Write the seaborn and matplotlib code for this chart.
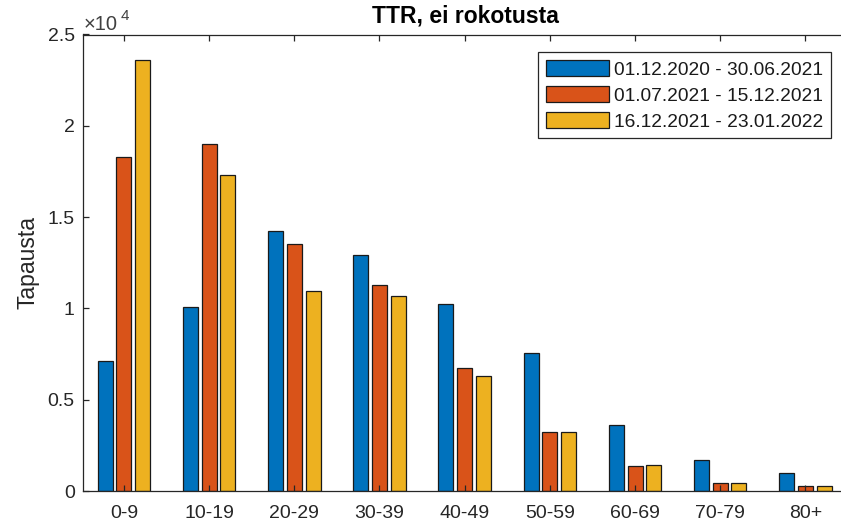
import matplotlib
matplotlib.use("Agg")
import matplotlib.pyplot as plt
import matplotlib.patches as mpatches
import seaborn as sns
import pandas as pd

categories = ["0-9", "10-19", "20-29", "30-39", "40-49", "50-59", "60-69", "70-79", "80+"]
periods = ["01.12.2020 - 30.06.2021", "01.07.2021 - 15.12.2021", "16.12.2021 - 23.01.2022"]
period1 = [7100, 10100, 14250, 12900, 10250, 7550, 3620, 1700, 990]
period2 = [18300, 19000, 13500, 11300, 6750, 3250, 1350, 440, 270]
period3 = [23600, 17300, 10950, 10700, 6300, 3250, 1420, 440, 270]
colors = ["#0072BD", "#D95319", "#EDB120"]
ytick_vals = [0, 5000, 10000, 15000, 20000, 25000]
ytick_labels = ["0", "0.5", "1", "1.5", "2", "2.5"]

sns.set_style("white")
plt.rcParams["font.family"] = ["Liberation Sans", "DejaVu Sans"]

rows = []
for series, vals in zip(periods, [period1, period2, period3]):
    for c, v in zip(categories, vals):
        rows.append({"Ikä": c, "Jakso": series, "Tapausta": v})
df = pd.DataFrame(rows)

fig = plt.figure(figsize=(8.41, 5.26), dpi=100)
ax = fig.add_axes([83 / 841, 1 - 491 / 526, 765 / 841, (491 - 34.5) / 526])

axis_col = "#262626"
sns.barplot(data=df, x="Ikä", y="Tapausta", hue="Jakso", order=categories,
            hue_order=periods, palette=colors, width=0.66, gap=0.2,
            edgecolor="#1a1a1a", linewidth=0.9, saturation=1, ax=ax,
            legend=False)

ax.set_xlim(-0.48, 8.5)
ax.set_ylim(0, 25000)
ax.set_yticks(ytick_vals)
ax.set_yticklabels(ytick_labels)
ax.set_xlabel("")
ax.set_ylabel("Tapausta", fontsize=16.5, color=axis_col, labelpad=6)
ax.set_title("TTR, ei rokotusta", fontsize=16.5, fontweight="bold", color="black", pad=9)

for s in ax.spines.values():
    s.set_color(axis_col)
    s.set_linewidth(0.9)
ax.set_axisbelow(False)
ax.tick_params(axis="both", which="both", direction="in", length=4.5, width=0.9,
               color=axis_col, labelcolor=axis_col, labelsize=14,
               top=True, right=True, bottom=True, left=True)
ax.tick_params(axis="x", pad=10)
ax.tick_params(axis="y", pad=6)

# exponent label (x10^4)
fig.text(84 / 841, 1 - 30 / 526, "\u00d710", ha="left", va="baseline",
         fontsize=14.5, color="#404040")
fig.text(121 / 841, 1 - 20 / 526, "4", ha="left", va="baseline",
         fontsize=11, color="#404040")

handles = [mpatches.Patch(facecolor=c, edgecolor="#1a1a1a", linewidth=0.9, label=p)
           for c, p in zip(colors, periods)]
leg = ax.legend(handles=handles, loc="upper left",
                bbox_to_anchor=((538 - 83) / 765, (491 - 52) / (491 - 34.5)),
                bbox_transform=ax.transAxes, fontsize=13.8, frameon=True, fancybox=False,
                framealpha=1, edgecolor=axis_col, handlelength=3.3, handleheight=0.95,
                handletextpad=0.25, labelspacing=0.38, borderpad=0.4, borderaxespad=0)
leg.get_frame().set_linewidth(0.9)
for t in leg.get_texts():
    t.set_color("#1a1a1a")

fig.savefig("out.png", dpi=100)
